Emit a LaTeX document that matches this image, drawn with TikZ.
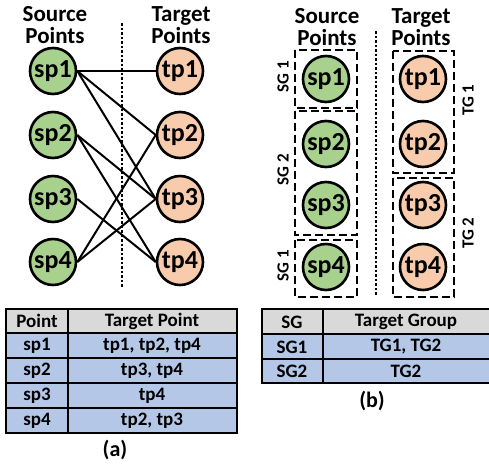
\documentclass[tikz,border=0pt]{standalone}
\usepackage{fontspec}
\setmainfont{Carlito}
\usetikzlibrary{positioning}
\definecolor{spgreen}{HTML}{A9D18E}
\definecolor{tporange}{HTML}{F8CBAD}
\definecolor{hdrgray}{HTML}{D9D9D9}
\definecolor{rowblue}{HTML}{B4C7E7}
\tikzset{
  pnode/.style={circle, draw, line width=2.6pt, minimum size=46pt, inner sep=0pt,
    font=\bfseries\fontsize{26}{26}\selectfont},
  spnode/.style={pnode, fill=spgreen},
  tpnode/.style={pnode, fill=tporange},
  title/.style={align=center, font=\bfseries\fontsize{23}{22}\selectfont},
  edge/.style={line width=2pt},
  divider/.style={line width=2pt, dash pattern=on 2.5pt off 2pt},
  grpbox/.style={line width=1.3pt, dash pattern=on 8pt off 4pt},
  grplabel/.style={rotate=90, font=\bfseries\fontsize{17}{17}\selectfont},
  cell/.style={font=\bfseries\fontsize{19}{19}\selectfont},
  tabline/.style={line width=2pt},
  caption/.style={font=\bfseries\fontsize{22}{22}\selectfont}
}
\begin{document}
\begin{tikzpicture}[x=1pt, y=-1pt]
  \useasboundingbox (0,0) rectangle (489,464);
  %--- (a) points
  \node[title] (lsrc) at (55,25) {Source\\Points};
  \node[title] (ltgt) at (181,25) {Target\\Points};
  \coordinate (ldivtop) at (122,23);
  \coordinate (ldivbot) at (122,287);
  \draw[divider] (ldivtop) -- (ldivbot);
  \foreach \i/\y in {1/71,2/135,3/199,4/262}{
    \node[spnode] (lsp\i) at (53,\y) {sp\i};
    \node[tpnode] (ltp\i) at (180,\y) {tp\i};
  }
  %--- (a) links
  \foreach \s/\t in {1/1,1/2,1/3,2/3,2/4,3/4,4/2,4/3}
    \draw[edge] (lsp\s.east) -- (ltp\t.west);
  %--- (b) groups
  \node[title] (rsrc) at (327,27) {Source\\Points};
  \node[title] (rtgt) at (421,27) {Target\\Points};
  \coordinate (rdivtop) at (376,31);
  \coordinate (rdivbot) at (376,295);
  \draw[divider] (rdivtop) -- (rdivbot);
  \foreach \i/\y in {1/79,2/144,3/205,4/267}{
    \node[spnode] (rsp\i) at (326,\y) {sp\i};
    \node[tpnode] (rtp\i) at (423,\y) {tp\i};
  }
  \draw[grpbox] (295,50) rectangle (357,108);
  \draw[grpbox] (295,111) rectangle (357,235);
  \draw[grpbox] (295,240) rectangle (357,297);
  \draw[grpbox] (393,51) rectangle (454,173);
  \draw[grpbox] (393,178) rectangle (454,297);
  \node[grplabel] (sg1a) at (283,77) {SG 1};
  \node[grplabel] (sg2) at (283,170) {SG 2};
  \node[grplabel] (sg1b) at (283,266) {SG 1};
  \node[grplabel] (tg1) at (468,100) {TG 1};
  \node[grplabel] (tg2) at (468,233) {TG 2};
  %--- (a) table
  \fill[hdrgray] (6,309) rectangle (237,333);
  \fill[rowblue] (6,333) rectangle (237,433);
  \draw[tabline] (6,309) rectangle (237,433);
  \draw[tabline] (68,309) -- (68,433);
  \foreach \y in {333,358,383,408}
    \draw[tabline] (6,\y) -- (237,\y);
  \node[cell] (ahp) at (37,321) {Point};
  \node[cell] (aht) at (152,321) {Target Point};
  \foreach \i/\y/\txt in {1/346/{tp1, tp2, tp4},2/371/{tp3, tp4},3/396/{tp4},4/421/{tp2, tp3}}{
    \node[cell] (ap\i) at (37,\y) {sp\i};
    \node[cell] (at\i) at (152,\y) {\txt};
  }
  \node[caption] (capa) at (115,450) {(a)};
  %--- (b) table
  \fill[hdrgray] (262,309) rectangle (492,334);
  \fill[rowblue] (262,334) rectangle (492,383);
  \draw[tabline] (262,309) rectangle (492,383);
  \draw[tabline] (323,309) -- (323,383);
  \foreach \y in {334,359}
    \draw[tabline] (262,\y) -- (492,\y);
  \node[cell] (bhs) at (292,322) {SG};
  \node[cell] (bht) at (406,322) {Target Group};
  \node[cell] (bs1) at (292,347) {SG1};
  \node[cell] (bt1) at (406,347) {TG1, TG2};
  \node[cell] (bs2) at (292,371) {SG2};
  \node[cell] (bt2) at (406,371) {TG2};
  \node[caption] (capb) at (372,401) {(b)};
\end{tikzpicture}
\end{document}
